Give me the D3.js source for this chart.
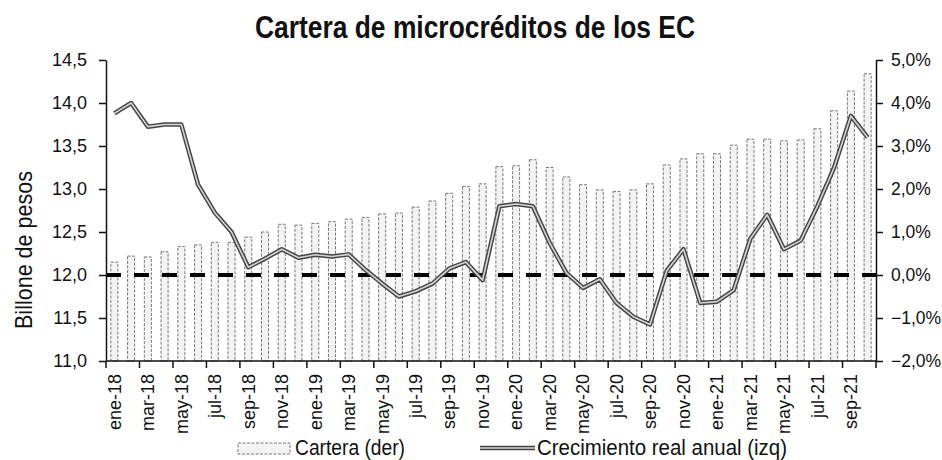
<!DOCTYPE html>
<html>
<head>
<meta charset="utf-8">
<script src="https://cdn.jsdelivr.net/npm/d3@7"></script>
<style>
  body { margin: 0; background: #fff; }
  text { font-family: "Liberation Sans", Arial, sans-serif; fill: #111; }
</style>
</head>
<body>
<svg width="942" height="460"></svg>
<script>
// datos
const meses = [
  'ene-18','feb-18','mar-18','abr-18','may-18','jun-18','jul-18','ago-18','sep-18','oct-18','nov-18','dic-18',
  'ene-19','feb-19','mar-19','abr-19','may-19','jun-19','jul-19','ago-19','sep-19','oct-19','nov-19','dic-19',
  'ene-20','feb-20','mar-20','abr-20','may-20','jun-20','jul-20','ago-20','sep-20','oct-20','nov-20','dic-20',
  'ene-21','feb-21','mar-21','abr-21','may-21','jun-21','jul-21','ago-21','sep-21','oct-21'
];
// billones de pesos (eje izquierdo)
const cartera = [
  12.15, 12.22, 12.21, 12.27, 12.33, 12.35, 12.38, 12.38, 12.44, 12.50, 12.59, 12.58,
  12.60, 12.62, 12.65, 12.67, 12.71, 12.72, 12.79, 12.86, 12.95, 13.03, 13.06, 13.26,
  13.27, 13.34, 13.25, 13.14, 13.05, 12.99, 12.97, 12.99, 13.06, 13.28, 13.35, 13.41,
  13.41, 13.51, 13.58, 13.58, 13.56, 13.57, 13.70, 13.91, 14.14, 14.34
];
// % real anual (eje derecho)
const crecimiento = [
  3.76, 4.00, 3.45, 3.50, 3.50, 2.10, 1.45, 1.00, 0.18, 0.38, 0.60, 0.40,
  0.47, 0.43, 0.48, 0.12, -0.20, -0.50, -0.38, -0.20, 0.15, 0.30, -0.12, 1.60,
  1.65, 1.60, 0.75, 0.05, -0.30, -0.10, -0.65, -0.97, -1.15, 0.10, 0.60, -0.65,
  -0.62, -0.35, 0.85, 1.40, 0.60, 0.80, 1.60, 2.50, 3.70, 3.20
];
const ticksIzq = [11, 11.5, 12, 12.5, 13, 13.5, 14, 14.5];
const ticksDer = [-2, -1, 0, 1, 2, 3, 4, 5];
const etiquetas = meses.filter((m, i) => i % 2 === 0);

const svg = d3.select('svg');
const mLeft = 106, mRight = 876, mTop = 60, mBottom = 361;

const x = d3.scaleBand()
  .domain(meses)
  .range([mLeft, mRight])
  .paddingInner(0.58)
  .paddingOuter(0.29);
const yL = d3.scaleLinear().domain([11, 14.5]).range([mBottom, mTop]);
const yR = d3.scaleLinear().domain([-2, 5]).range([mBottom, mTop]);
const gap = (x.step() - x.bandwidth()) / 2;

// barras
svg.append('g')
  .selectAll('rect')
  .data(cartera)
  .join('rect')
  .attr('x', (d, i) => x(meses[i]))
  .attr('y', d => yL(d))
  .attr('width', x.bandwidth())
  .attr('height', d => mBottom - yL(d))
  .attr('fill', '#f3f3f3')
  .attr('stroke', '#777')
  .attr('stroke-width', 1)
  .attr('stroke-dasharray', '3,1.5');

// linea de cero
svg.append('line')
  .attr('x1', mLeft)
  .attr('x2', mRight)
  .attr('y1', yR(0))
  .attr('y2', yR(0))
  .attr('stroke', '#000')
  .attr('stroke-width', 4)
  .attr('stroke-dasharray', '15,13');

// crecimiento
const linea = d3.line()
  .x((d, i) => x(meses[i]) + x.bandwidth() / 2)
  .y(d => yR(d));

svg.append('path')
  .datum(crecimiento)
  .attr('d', linea)
  .attr('fill', 'none')
  .attr('stroke', '#444')
  .attr('stroke-width', 4.5)
  .attr('stroke-linejoin', 'round');
svg.append('path')
  .datum(crecimiento)
  .attr('d', linea)
  .attr('fill', 'none')
  .attr('stroke', '#d4d4d4')
  .attr('stroke-width', 1.6)
  .attr('stroke-linejoin', 'round');

// ejes
const coma = d => d3.format('.1f')(d).replace('.', ',');

const ejeIzq = svg.append('g')
  .attr('transform', `translate(${mLeft},0)`)
  .call(d3.axisLeft(yL).tickValues(ticksIzq).tickFormat(coma).tickSize(7).tickSizeOuter(0));
ejeIzq.selectAll('text').attr('font-size', 18).attr('x', -19);

const ejeDer = svg.append('g')
  .attr('transform', `translate(${mRight},0)`)
  .call(d3.axisRight(yR).tickValues(ticksDer).tickFormat(d => coma(d) + '%').tickSize(7).tickSizeOuter(0));
ejeDer.selectAll('text').attr('font-size', 17.5).attr('x', 15);

svg.selectAll('.domain, .tick line').attr('stroke', '#111').attr('stroke-width', 1.5);
svg.selectAll('.tick text').style('font-family', '"Liberation Sans", Arial, sans-serif').attr('fill', '#111');

// eje inferior
const ejeX = svg.append('g');
ejeX.append('line')
  .attr('x1', mLeft).attr('x2', mRight)
  .attr('y1', mBottom).attr('y2', mBottom)
  .attr('stroke', '#111').attr('stroke-width', 1.5);

const posTicks = etiquetas.map(m => x(m) - gap).concat([mRight]);
ejeX.selectAll('line.t')
  .data(posTicks)
  .join('line')
  .attr('class', 't')
  .attr('x1', d => d).attr('x2', d => d)
  .attr('y1', mBottom).attr('y2', mBottom + 7)
  .attr('stroke', '#111').attr('stroke-width', 1.5);

ejeX.selectAll('text')
  .data(etiquetas)
  .join('text')
  .attr('transform', m => `translate(${x(m) + x.bandwidth() / 2},${mBottom + 13}) rotate(-90)`)
  .attr('text-anchor', 'end')
  .attr('dy', '0.35em')
  .attr('font-size', 18)
  .text(m => m);

// titulos
svg.append('text')
  .attr('x', 255).attr('y', 38)
  .attr('font-size', 31)
  .attr('font-weight', 'bold')
  .attr('textLength', 440)
  .attr('lengthAdjust', 'spacingAndGlyphs')
  .text('Cartera de microcréditos de los EC');

svg.append('text')
  .attr('transform', 'translate(32,250) rotate(-90)')
  .attr('text-anchor', 'middle')
  .attr('font-size', 24)
  .attr('textLength', 158)
  .attr('lengthAdjust', 'spacingAndGlyphs')
  .text('Billone de pesos');

// leyenda
const ley = svg.append('g');
ley.append('rect')
  .attr('x', 238).attr('y', 443)
  .attr('width', 52).attr('height', 11)
  .attr('fill', '#f3f3f3')
  .attr('stroke', '#777')
  .attr('stroke-dasharray', '3,1.5');
ley.append('text')
  .attr('x', 295).attr('y', 455)
  .attr('font-size', 22)
  .attr('textLength', 110)
  .attr('lengthAdjust', 'spacingAndGlyphs')
  .text('Cartera (der)');

ley.append('line')
  .attr('x1', 480).attr('x2', 535)
  .attr('y1', 448).attr('y2', 448)
  .attr('stroke', '#444').attr('stroke-width', 4.5);
ley.append('line')
  .attr('x1', 480).attr('x2', 535)
  .attr('y1', 448).attr('y2', 448)
  .attr('stroke', '#d4d4d4').attr('stroke-width', 1.6);
ley.append('text')
  .attr('x', 537).attr('y', 455)
  .attr('font-size', 22)
  .attr('textLength', 250)
  .attr('lengthAdjust', 'spacingAndGlyphs')
  .text('Crecimiento real anual (izq)');
</script>
</body>
</html>
